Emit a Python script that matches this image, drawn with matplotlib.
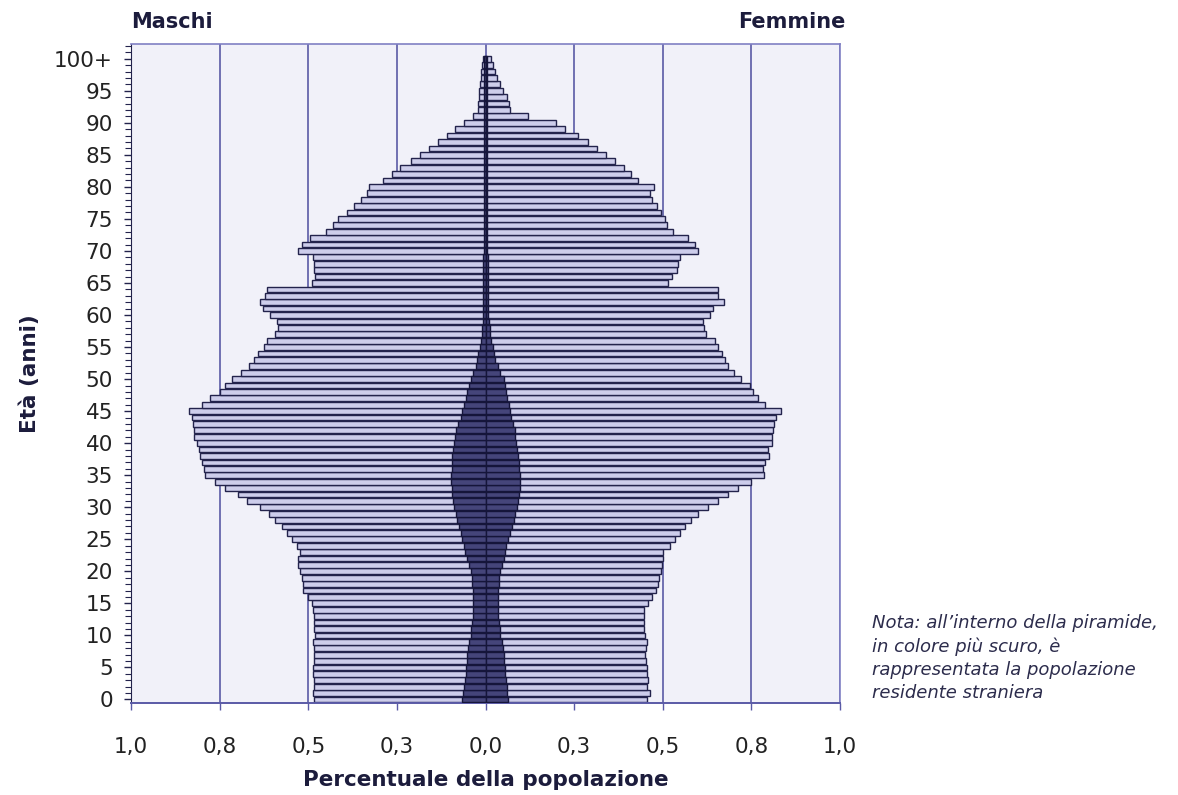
import numpy as np
import matplotlib.pyplot as plt
from matplotlib.ticker import FixedLocator, MultipleLocator

# età 0..100+
ages = np.arange(0, 101)

# percentuale della popolazione totale per età
maschi = [0.485, 0.487, 0.483, 0.485, 0.487, 0.487, 0.485, 0.485, 0.483, 0.487,
          0.481, 0.484, 0.484, 0.484, 0.486, 0.490, 0.500, 0.514, 0.516, 0.519,
          0.523, 0.530, 0.528, 0.523, 0.533, 0.547, 0.561, 0.575, 0.594, 0.612,
          0.636, 0.673, 0.697, 0.734, 0.762, 0.790, 0.795, 0.800, 0.804, 0.809,
          0.815, 0.823, 0.821, 0.825, 0.828, 0.835, 0.800, 0.776, 0.748, 0.734,
          0.715, 0.690, 0.666, 0.654, 0.643, 0.626, 0.617, 0.594, 0.584, 0.589,
          0.607, 0.628, 0.636, 0.622, 0.617, 0.490, 0.481, 0.484, 0.484, 0.486,
          0.530, 0.517, 0.495, 0.450, 0.430, 0.415, 0.390, 0.372, 0.350, 0.335,
          0.330, 0.290, 0.265, 0.240, 0.210, 0.185, 0.160, 0.135, 0.110, 0.085,
          0.060, 0.035, 0.022, 0.020, 0.018, 0.017, 0.015, 0.014, 0.012, 0.010,
          0.008]
femmine = [0.455, 0.464, 0.455, 0.458, 0.455, 0.455, 0.452, 0.450, 0.452, 0.455,
           0.450, 0.447, 0.448, 0.446, 0.448, 0.458, 0.469, 0.480, 0.486, 0.490,
           0.495, 0.497, 0.500, 0.502, 0.520, 0.535, 0.549, 0.563, 0.581, 0.600,
           0.628, 0.655, 0.684, 0.713, 0.750, 0.786, 0.783, 0.787, 0.800, 0.797,
           0.808, 0.808, 0.811, 0.814, 0.820, 0.834, 0.787, 0.769, 0.755, 0.745,
           0.720, 0.700, 0.684, 0.675, 0.666, 0.656, 0.647, 0.621, 0.617, 0.614,
           0.633, 0.642, 0.673, 0.656, 0.656, 0.516, 0.525, 0.539, 0.542, 0.549,
           0.600, 0.591, 0.572, 0.530, 0.511, 0.507, 0.495, 0.483, 0.469, 0.464,
           0.474, 0.430, 0.410, 0.390, 0.365, 0.340, 0.315, 0.290, 0.260, 0.225,
           0.200, 0.120, 0.070, 0.065, 0.060, 0.050, 0.040, 0.033, 0.027, 0.020,
           0.015]

# popolazione residente straniera
maschi_str = [0.066, 0.064, 0.061, 0.058, 0.056, 0.054, 0.053, 0.051, 0.050, 0.047,
              0.042, 0.040, 0.038, 0.036, 0.035, 0.035, 0.035, 0.036, 0.037, 0.039,
              0.042, 0.047, 0.053, 0.057, 0.061, 0.066, 0.070, 0.075, 0.080, 0.084,
              0.089, 0.092, 0.094, 0.095, 0.096, 0.096, 0.095, 0.095, 0.094, 0.092,
              0.089, 0.086, 0.082, 0.077, 0.070, 0.066, 0.061, 0.056, 0.051, 0.047,
              0.042, 0.036, 0.028, 0.024, 0.020, 0.016, 0.013, 0.010, 0.009, 0.008,
              0.007, 0.006, 0.006, 0.006, 0.006, 0.006, 0.006, 0.006, 0.006, 0.006,
              0.005, 0.005, 0.005, 0.005, 0.005, 0.005, 0.005, 0.005, 0.005, 0.005,
              0.004, 0.004, 0.004, 0.004, 0.004, 0.004, 0.004, 0.004, 0.004, 0.004,
              0.003, 0.003, 0.003, 0.003, 0.003, 0.003, 0.003, 0.003, 0.003, 0.003,
              0.003]
femmine_str = [0.064, 0.062, 0.061, 0.058, 0.056, 0.054, 0.053, 0.051, 0.050, 0.047,
               0.042, 0.040, 0.038, 0.036, 0.036, 0.035, 0.035, 0.036, 0.037, 0.039,
               0.042, 0.047, 0.051, 0.055, 0.058, 0.064, 0.070, 0.075, 0.080, 0.084,
               0.089, 0.092, 0.094, 0.096, 0.096, 0.096, 0.095, 0.094, 0.092, 0.089,
               0.086, 0.084, 0.082, 0.077, 0.073, 0.070, 0.066, 0.061, 0.058, 0.056,
               0.051, 0.042, 0.034, 0.028, 0.023, 0.020, 0.016, 0.014, 0.012, 0.010,
               0.007, 0.006, 0.006, 0.006, 0.006, 0.006, 0.006, 0.006, 0.006, 0.006,
               0.005, 0.005, 0.005, 0.005, 0.005, 0.005, 0.005, 0.005, 0.005, 0.005,
               0.004, 0.004, 0.004, 0.004, 0.004, 0.004, 0.004, 0.004, 0.004, 0.004,
               0.003, 0.003, 0.003, 0.003, 0.003, 0.003, 0.003, 0.003, 0.003, 0.003,
               0.003]

xticks = [-1.0, -0.75, -0.5, -0.25, 0.0, 0.25, 0.5, 0.75, 1.0]
xlabels = ["1,0", "0,8", "0,5", "0,3", "0,0", "0,3", "0,5", "0,8", "1,0"]
yticks = list(range(0, 101, 5))
ylabels = [str(a) for a in range(0, 100, 5)] + ["100+"]

# colori
fill = "#cdcdeb"
edge = "#23234c"
dark = "#45457a"
grid = "#5a5aa6"
txt = "#1c1c3c"

fig = plt.figure(figsize=(11.78, 7.95), dpi=100)
ax = fig.add_axes([0.1112, 0.1161, 0.6019, 0.8286])
ax.set_facecolor("#f1f1f9")

h = 0.9
ax.barh(ages, -np.array(maschi), height=h, color=fill, edgecolor=edge, lw=1.0, zorder=2)
ax.barh(ages, femmine, height=h, color=fill, edgecolor=edge, lw=1.0, zorder=2)
ax.barh(ages, -np.array(maschi_str), height=h, color=dark, edgecolor="#15153a", lw=1.0, zorder=3)
ax.barh(ages, femmine_str, height=h, color=dark, edgecolor="#15153a", lw=1.0, zorder=3)

ax.set_xlim(-1, 1)
ax.set_ylim(-0.5, 102.3)

ax.xaxis.set_major_locator(FixedLocator(xticks))
ax.set_xticklabels(xlabels)
ax.xaxis.grid(True, color=grid, lw=1.2)
ax.set_axisbelow(True)
ax.yaxis.set_major_locator(FixedLocator(yticks))
ax.set_yticklabels(ylabels)
ax.yaxis.set_minor_locator(MultipleLocator(1))

ax.tick_params(axis="x", direction="out", length=5, width=1, color=grid,
               pad=20, labelsize=15.5, labelcolor="#222222")
ax.tick_params(axis="y", which="major", direction="out", length=5, width=1,
               color=edge, pad=8, labelsize=15.5, labelcolor="#222222")
ax.tick_params(axis="y", which="minor", direction="out", length=4, width=0.8, color=edge)

for s in ["top", "right"]:
    ax.spines[s].set_color("#8080c4")
    ax.spines[s].set_linewidth(1.2)
ax.spines["left"].set_color(edge)
ax.spines["bottom"].set_color(grid)
ax.spines["bottom"].set_linewidth(1.4)

ax.set_xlabel("Percentuale della popolazione", fontsize=15.5, fontweight="bold",
              color=txt, labelpad=9)
ax.set_ylabel("Età (anni)", fontsize=15.5, fontweight="bold", color=txt, labelpad=10)

fig.text(131 / 1178, 1 - 22 / 795, "Maschi", fontsize=15, fontweight="bold",
         color=txt, ha="left", va="center")
fig.text(845 / 1178, 1 - 22 / 795, "Femmine", fontsize=15, fontweight="bold",
         color=txt, ha="right", va="center")

nota = ["Nota: all’interno della piramide,",
        "in colore più scuro, è",
        "rappresentata la popolazione",
        "residente straniera"]
for i, riga in enumerate(nota):
    fig.text(872 / 1178, 1 - (623 + i * 23.5) / 795, riga, fontsize=13,
             style="italic", color="#2c2c4c", ha="left", va="center")

fig.savefig("out.png", dpi=100)
